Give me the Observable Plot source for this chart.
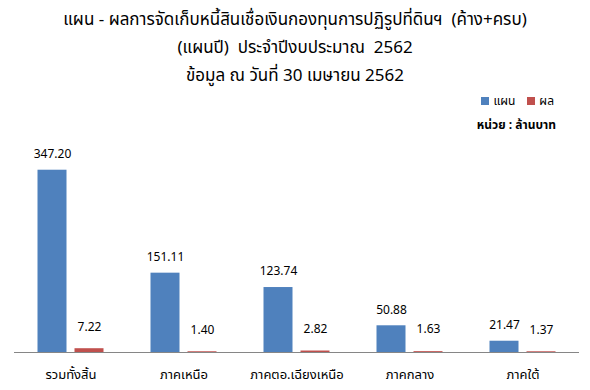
<!DOCTYPE html>
<html>
<head>
<meta charset="utf-8">
<script src="https://cdn.jsdelivr.net/npm/d3@7"></script>
<script src="https://cdn.jsdelivr.net/npm/@observablehq/plot@0.6"></script>
<style>
  html, body { margin: 0; padding: 0; background: #fff; }
  body { width: 590px; height: 390px; overflow: hidden; font-family: Tahoma, "Noto Sans Thai", "Noto Sans", sans-serif; }
  #header { position: relative; height: 135px; }
  #title { padding-top: 6px; text-align: center; font-size: 17px; line-height: 28px; color: #000; white-space: pre; }
  #legend { position: absolute; top: 92px; right: 36px; font-size: 12px; display: flex; align-items: center; gap: 4px; color: #000; }
  #legend .sw { width: 8px; height: 8px; display: inline-block; }
  #unit { position: absolute; top: 116px; right: 34px; font-size: 12px; font-weight: bold; color: #000; }
</style>
</head>
<body>
<div id="header">
  <div id="title"></div>
  <div id="legend"></div>
  <div id="unit"></div>
</div>
<div id="chart"></div>
<script>
const titleLines = [
  "แผน - ผลการจัดเก็บหนี้สินเชื่อเงินกองทุนการปฏิรูปที่ดินฯ  (ค้าง+ครบ)",
  "(แผนปี)  ประจำปีงบประมาณ  2562",
  "ข้อมูล ณ วันที่ 30 เมษายน 2562"
];
const unitLabel = "หน่วย : ล้านบาท";
const categories = ["รวมทั้งสิ้น", "ภาคเหนือ", "ภาคตอ.เฉียงเหนือ", "ภาคกลาง", "ภาคใต้"];
const seriesNames = ["แผน", "ผล"];
const planValues = [347.20, 151.11, 123.74, 50.88, 21.47];
const actualValues = [7.22, 1.40, 2.82, 1.63, 1.37];
const seriesColors = ["#4f81bd", "#c0504d"];

document.getElementById("title").innerHTML = titleLines.map(t => `<div>${t}</div>`).join("");
document.getElementById("unit").textContent = unitLabel;
document.getElementById("legend").innerHTML = seriesNames.map((s, i) =>
  `<span class="sw" style="background:${seriesColors[i]}"></span><span style="margin-right:${i === 0 ? 8 : 0}px">${s}</span>`).join("");

const data = [];
categories.forEach((c, i) => {
  data.push({category: c, series: seriesNames[0], value: planValues[i]});
  data.push({category: c, series: seriesNames[1], value: actualValues[i]});
});

const chart = Plot.plot({
  width: 590,
  height: 255,
  marginLeft: 13.5,
  marginRight: 11.5,
  marginTop: 7,
  marginBottom: 38,
  style: {fontFamily: 'Tahoma, "Noto Sans Thai", "Noto Sans", sans-serif', fontSize: "12px", color: "#000"},
  fx: {domain: categories, padding: 0, label: null, axis: "bottom", tickSize: 0, tickPadding: 17},
  x: {domain: seriesNames, paddingInner: 0.213, paddingOuter: 0.613, axis: null},
  y: {domain: [0, 400], axis: null},
  color: {domain: seriesNames, range: seriesColors},
  marks: [
    Plot.barY(data, {fx: "category", x: "series", y: "value", fill: "series"}),
    Plot.ruleY([0], {stroke: "#868686", strokeWidth: 1}),
    Plot.text(data.filter(d => d.series === seriesNames[0]), {fx: "category", x: "series", y: "value", text: d => d.value.toFixed(2), dy: -16, fontSize: 12, fill: "#000"}),
    Plot.text(data.filter(d => d.series === seriesNames[1]), {fx: "category", x: "series", y: "value", text: d => d.value.toFixed(2), dy: -22, fontSize: 12, fill: "#000"})
  ]
});
chart.querySelectorAll('[aria-label="fx-axis tick label"] text').forEach(t => t.setAttribute("font-size", "13"));
document.getElementById("chart").appendChild(chart);
</script>
</body>
</html>
